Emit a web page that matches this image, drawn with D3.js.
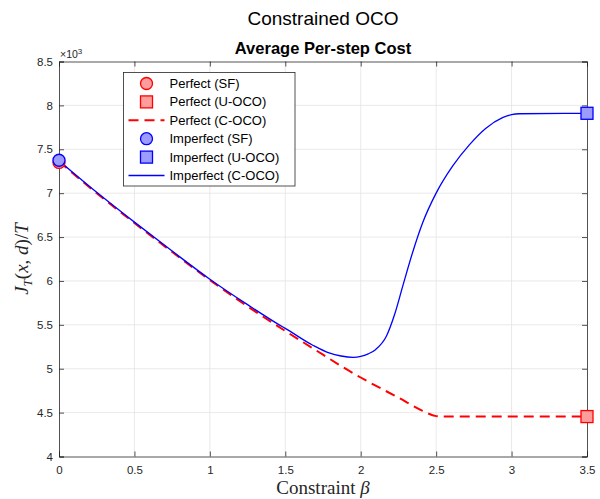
<!DOCTYPE html>
<html>
<head>
<meta charset="utf-8">
<script src="https://cdn.jsdelivr.net/npm/d3@7"></script>
<style>
  body { margin: 0; background: #fff; }
  svg { display: block; font-family: "Liberation Sans", Arial, sans-serif; }
  .grid line { stroke: #e3e3e3; stroke-width: 0.8; }
  .tick text { fill: #262626; font-size: 11.5px; }
  .serif { font-family: "Liberation Serif", "DejaVu Serif", serif; }
</style>
</head>
<body>
<div id="chart"></div>
<script>
// Values (cost, not scaled)
const betaPerfect  = [0, 0.25, 0.5, 0.75, 1.0, 1.25, 1.5, 1.75, 1.88, 2.0, 2.25, 2.41, 2.5, 2.55, 3.0, 3.5];
const costPerfect  = [7360, 7000, 6660, 6330, 6010, 5710, 5430, 5160, 5020, 4900, 4670, 4520, 4460, 4455, 4455, 4455];

const betaImperfect = [0, 0.25, 0.5, 0.75, 1.0, 1.25, 1.46, 1.5, 1.68, 1.79, 1.87, 1.95, 2.0, 2.05, 2.10, 2.17, 2.225, 2.28, 2.345, 2.41, 2.5, 2.61, 2.72, 2.83, 2.94, 3.0, 3.05, 3.5];
const costImperfect = [7370, 7010, 6670, 6340, 6020, 5730, 5500, 5460, 5270, 5180, 5145, 5130, 5140, 5170, 5220, 5370, 5620, 5950, 6330, 6660, 7000, 7310, 7550, 7740, 7860, 7895, 7905, 7910];

// end-point markers: SF at beta = 0, U-OCO at beta = 3.5
const sfPoints   = [{ beta: 0, perfect: 7350, imperfect: 7375 }];
const uocoPoints = [{ beta: 3.5, perfect: 4455, imperfect: 7910 }];

const xTicks = [0, 0.5, 1, 1.5, 2, 2.5, 3, 3.5];
const yTicks = [4000, 4500, 5000, 5500, 6000, 6500, 7000, 7500, 8000, 8500];

const legendItems = [
  { label: 'Perfect (SF)',        kind: 'circle', color: 'red' },
  { label: 'Perfect (U-OCO)',     kind: 'square', color: 'red' },
  { label: 'Perfect (C-OCO)',     kind: 'dash',   color: 'red' },
  { label: 'Imperfect (SF)',      kind: 'circle', color: 'blue' },
  { label: 'Imperfect (U-OCO)',   kind: 'square', color: 'blue' },
  { label: 'Imperfect (C-OCO)',   kind: 'line',   color: 'blue' }
];

const W = 600, H = 499;
const M = { top: 61.5, right: 13, bottom: 42.5, left: 59 };
const iw = W - M.left - M.right, ih = H - M.top - M.bottom;
const FILL = { red: '#ff9c9c', blue: '#9c9cff' };

const svg = d3.select('#chart').append('svg').attr('width', W).attr('height', H);

svg.append('text').attr('x', M.left + iw / 2).attr('y', 25)
  .attr('text-anchor', 'middle').attr('font-size', 19).attr('fill', '#000')
  .text('Constrained OCO');
svg.append('text').attr('x', M.left + iw / 2).attr('y', 54)
  .attr('text-anchor', 'middle').attr('font-size', 16.5).attr('font-weight', 'bold').attr('fill', '#000')
  .text('Average Per-step Cost');

const g = svg.append('g').attr('transform', `translate(${M.left},${M.top})`);

const x = d3.scaleLinear().domain([0, 3.5]).range([0, iw]);
const y = d3.scaleLinear().domain([4000, 8500]).range([ih, 0]);

// Grid
g.append('g').attr('class', 'grid')
  .selectAll('line').data(xTicks.slice(1, -1)).join('line')
  .attr('x1', d => x(d)).attr('x2', d => x(d)).attr('y1', 0).attr('y2', ih);
g.append('g').attr('class', 'grid')
  .selectAll('line').data(yTicks.slice(1, -1)).join('line')
  .attr('x1', 0).attr('x2', iw).attr('y1', d => y(d)).attr('y2', d => y(d));

// Axes (MATLAB style: inward ticks, box on)
const styleAx = ax => {
  ax.select('.domain').attr('stroke', '#262626').attr('stroke-width', 0.8);
  ax.selectAll('.tick line').attr('stroke', '#262626').attr('stroke-width', 0.8);
};
g.append('g').attr('transform', `translate(0,${ih})`)
  .call(d3.axisBottom(x).tickValues(xTicks).tickSize(-5).tickPadding(9).tickFormat(d3.format('')))
  .call(styleAx);
g.append('g')
  .call(d3.axisTop(x).tickValues(xTicks).tickSize(-5).tickFormat(''))
  .call(styleAx);
g.append('g')
  .call(d3.axisLeft(y).tickValues(yTicks).tickSize(-5).tickPadding(6).tickFormat(d => d3.format('')(d / 1000)))
  .call(styleAx);
g.append('g').attr('transform', `translate(${iw},0)`)
  .call(d3.axisRight(y).tickValues(yTicks).tickSize(-5).tickFormat(''))
  .call(styleAx);
g.selectAll('.tick text').attr('font-family', '"Liberation Sans", Arial, sans-serif').attr('font-size', 11.5);

// exponent label
const ex = svg.append('text').attr('x', M.left + 1).attr('y', M.top - 4)
  .attr('font-size', 10.5).attr('fill', '#262626');
ex.append('tspan').text('×10');
ex.append('tspan').attr('font-size', 8).attr('dy', -4).text('3');

// Lines
const line = d3.line().x(d => x(d[0])).y(d => y(d[1])).curve(d3.curveMonotoneX);
g.append('path')
  .datum(d3.zip(betaPerfect, costPerfect))
  .attr('d', line).attr('fill', 'none').attr('stroke', 'red')
  .attr('stroke-width', 2).attr('stroke-dasharray', '10,6');
g.append('path')
  .datum(d3.zip(betaImperfect, costImperfect))
  .attr('d', line).attr('fill', 'none').attr('stroke', 'blue')
  .attr('stroke-width', 1.3);

// Markers
function circle(sel, cx, cy, c) {
  sel.append('circle').attr('cx', cx).attr('cy', cy).attr('r', 6)
    .attr('fill', FILL[c]).attr('stroke', c).attr('stroke-width', 1.3);
}
function square(sel, cx, cy, c) {
  sel.append('rect').attr('x', cx - 6).attr('y', cy - 6).attr('width', 12).attr('height', 12)
    .attr('fill', FILL[c]).attr('stroke', c).attr('stroke-width', 1.3);
}
const mk = svg.append('g').attr('transform', `translate(${M.left},${M.top})`);
sfPoints.forEach(p => {
  circle(mk, x(p.beta), y(p.perfect), 'red');
  circle(mk, x(p.beta), y(p.imperfect), 'blue');
});
uocoPoints.forEach(p => {
  square(mk, x(p.beta), y(p.perfect), 'red');
  square(mk, x(p.beta), y(p.imperfect), 'blue');
});

// Axis labels
const yl = svg.append('text').attr('class', 'serif')
  .attr('transform', `translate(28,${M.top + ih / 2}) rotate(-90)`)
  .attr('text-anchor', 'middle').attr('font-size', 19).attr('fill', '#262626');
yl.append('tspan').attr('font-style', 'italic').text('J');
yl.append('tspan').attr('font-style', 'italic').attr('font-size', 13).attr('dy', 4).text('T');
yl.append('tspan').attr('dy', -4).text('(');
yl.append('tspan').attr('font-style', 'italic').text('x');
yl.append('tspan').text(', ');
yl.append('tspan').attr('font-style', 'italic').text('d');
yl.append('tspan').text(')/');
yl.append('tspan').attr('font-style', 'italic').text('T');

const xl = svg.append('text').attr('class', 'serif')
  .attr('x', M.left + iw / 2).attr('y', 494)
  .attr('text-anchor', 'middle').attr('font-size', 19).attr('fill', '#262626');
xl.append('tspan').text('Constraint ');
xl.append('tspan').attr('font-style', 'italic').text('β');

// Legend
const lg = svg.append('g').attr('transform', 'translate(123.5,72.5)');
lg.append('rect').attr('width', 171.5).attr('height', 113.5)
  .attr('fill', '#fff').attr('stroke', '#262626').attr('stroke-width', 0.8);
legendItems.forEach((it, i) => {
  const cy = 11 + i * 18.4;
  if (it.kind === 'circle') circle(lg, 23, cy, it.color);
  else if (it.kind === 'square') square(lg, 23, cy, it.color);
  else {
    lg.append('line').attr('x1', 5).attr('x2', 41).attr('y1', cy).attr('y2', cy)
      .attr('stroke', it.color)
      .attr('stroke-width', it.kind === 'dash' ? 2 : 1.3)
      .attr('stroke-dasharray', it.kind === 'dash' ? '10,6' : null);
  }
  lg.append('text').attr('x', 46).attr('y', cy + 4.5)
    .attr('font-size', 13).attr('fill', '#000').text(it.label);
});
</script>
</body>
</html>
